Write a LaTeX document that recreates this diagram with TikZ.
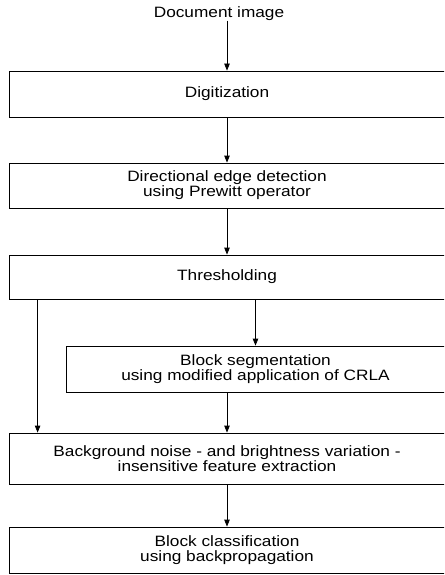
\documentclass[tikz,border=0pt]{standalone}
\usepackage{fontspec}
\setmainfont{Liberation Sans}[FakeStretch=1.15]
\usetikzlibrary{arrows.meta,positioning}

\tikzset{
  stage/.style={draw, rectangle, line width=0.8pt, align=center, inner sep=0pt,
    minimum width=436pt, font=\fontsize{15}{15}\selectfont},
  flow/.style={-{Triangle[length=7pt,width=5.5pt]}, line width=0.8pt},
}

\begin{document}
\begin{tikzpicture}[x=1pt,y=-1pt]
\useasboundingbox (0,0) rectangle (444,575);
\clip (0,0) rectangle (444,575);

\node[font=\fontsize{15}{15}\selectfont] (doc) at (219,14) {Document image};
\node[stage, minimum height=46pt] (dig) at (227,94) {Digitization};
\node[stage, minimum height=45pt] (dir) at (227,185.5) {Directional edge detection\\using Prewitt operator};
\node[stage, minimum height=44pt] (thr) at (227,277) {Thresholding};
\node[stage, minimum height=46pt, minimum width=379pt] (seg) at (255.5,369) {Block segmentation\\using modified application of CRLA};
\node[stage, minimum height=51pt] (bg) at (227,458.5) {Background noise - and brightness variation -\\insensitive feature extraction};
\node[stage, minimum height=46pt] (cls) at (227,550) {Block classification\\using backpropagation};

% connectors
\draw[flow] ([yshift=4pt]dig.north |- doc.south) -- (dig.north);
\draw[flow] (dig.south) -- (dir.north);
\draw[flow] (dir.south) -- (thr.north);
\draw[flow] (thr.south -| seg.north) -- (seg.north);
\draw[flow] ([xshift=29pt]thr.south west) -- ([xshift=29pt]bg.north west);
\draw[flow] (seg.south -| bg.north) -- (bg.north);
\draw[flow] (bg.south) -- (cls.north);
\end{tikzpicture}
\end{document}
